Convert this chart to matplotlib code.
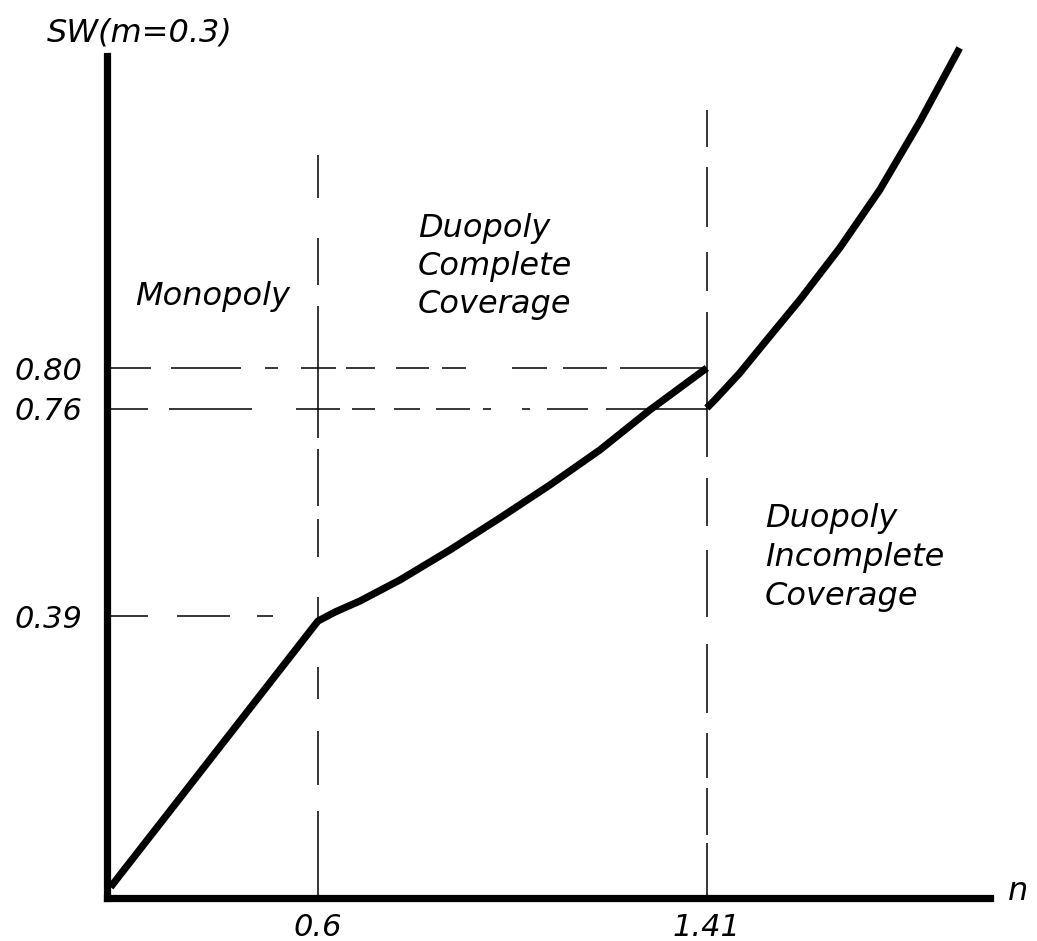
import matplotlib
matplotlib.use("Agg")
import matplotlib.pyplot as plt
import numpy as np

# schematic axes: tick values are not evenly spaced on the page
x_ticks = [0.6, 1.41]
x_tick_labels = ["0.6", "1.41"]
y_ticks = [0.39, 0.76, 0.80]
y_tick_labels = ["0.39", "0.76", "0.80"]

# social welfare curve
mono_cc_n = [0.01, 0.6, 0.6354, 0.6875, 0.7707, 0.8749, 0.9790, 1.0831, 1.1872, 1.2913, 1.41]
mono_cc_sw = [0.015, 0.383, 0.397, 0.4168, 0.4543, 0.5080, 0.5652, 0.6241, 0.6867, 0.7582, 0.80]
ic_n = [1.41, 1.4267, 1.4787, 1.5349, 1.6036, 1.6869, 1.7702, 1.8535, 1.9368]
ic_sw = [0.761, 0.7688, 0.7951, 0.835, 0.885, 0.95, 1.0225, 1.1075, 1.20]

regions = ["Monopoly", "Duopoly\nComplete\nCoverage", "Duopoly\nIncomplete\nCoverage"]

W, H, DPI = 1037, 941, 100
PX = 72 / DPI  # pixels -> points

# piecewise-linear page positions of the schematic axes (in pixels from the origin)
X_VAL = [-1.0, 0.0, 0.6, 1.41, 2.0, 3.0]
X_POS = [-355.0, 0.0, 211.0, 600.0, 883.3, 1363.5]
Y_VAL = [-1.0, 0.0, 0.39, 0.76, 0.80, 1.20, 2.0]
Y_POS = [-723.0, 0.0, 282.0, 489.0, 530.0, 850.0, 1490.0]


def fwd(vals, pos):
    return lambda v: np.interp(v, vals, pos)


def inv(vals, pos):
    return lambda p: np.interp(p, pos, vals)


plt.rcParams["lines.scale_dashes"] = False
fig = plt.figure(figsize=(W / DPI, H / DPI), dpi=DPI)
ax = fig.add_axes([107 / W, (H - 898) / H, (990 - 107) / W, (898 - 48) / H])
ax.set_xscale("function", functions=(fwd(X_VAL, X_POS), inv(X_VAL, X_POS)))
ax.set_yscale("function", functions=(fwd(Y_VAL, Y_POS), inv(Y_VAL, Y_POS)))
ax.set_xlim(0, 2.0)
ax.set_ylim(0, 1.20)

# dashed guide lines (dash patterns in pixels)
ref = dict(color="black", lw=1.1, zorder=1)
ax.plot([0, 1.41], [0.80, 0.80],
        dashes=[v * PX for v in (44, 20, 70, 24, 13, 23, 35, 10, 29, 21, 33, 13, 24, 46, 35, 16, 44, 13, 90, 10)], **ref)
ax.plot([0, 1.41], [0.76, 0.76],
        dashes=[v * PX for v in (41, 21, 83, 44, 44, 12, 23, 19, 26, 16, 34, 13, 8, 31, 8, 17, 41, 18, 105, 10)], **ref)
ax.plot([0, 0.6], [0.39, 0.39],
        dashes=[v * PX for v in (41, 29, 53, 27, 16, 100)], **ref)
ax.plot([0.6, 0.6], [1.066, 0],
        dashes=[v * PX for v in (43, 40, 47, 21, 132, 11, 57, 13, 38, 40, 28, 42, 32, 32, 54, 26, 90, 10)], **ref)
ax.plot([1.41, 1.41], [1.1225, 0],
        dashes=[v * PX for v in (37, 20, 60, 25, 39, 21, 145, 21, 48, 24, 67, 27, 69, 20, 45, 10, 47, 8, 60, 10)], **ref)

curve = dict(color="black", lw=5.2, solid_joinstyle="round", solid_capstyle="butt", clip_on=False, zorder=3)
ax.plot(mono_cc_n, mono_cc_sw, **curve)
ax.plot(ic_n, ic_sw, **curve)

for side in ("top", "right"):
    ax.spines[side].set_visible(False)
for side in ("left", "bottom"):
    ax.spines[side].set_linewidth(5.2)
ax.spines["left"].set_bounds(0, 1.19)

font = dict(family="DejaVu Sans", style="italic")
ax.set_xticks(x_ticks, x_tick_labels, fontsize=22, **font)
ax.set_yticks(y_ticks, y_tick_labels, fontsize=22, **font)
ax.tick_params(axis="x", length=0, pad=11)
ax.tick_params(axis="y", length=0, pad=18)
ax.minorticks_off()


def page_text(x, y, s, **kw):
    fig.text(x / W, 1 - y / H, s, fontsize=23, va="baseline", ha="left", **font, **kw)


page_text(47, 42, "SW(m=0.3)")
page_text(1008, 900, "n")
page_text(135, 305, regions[0])
for i, line in enumerate(regions[1].split("\n")):
    page_text(418, 237 + 38 * i, line)
for i, line in enumerate(regions[2].split("\n")):
    page_text(765, 527 + 39 * i, line)

fig.savefig("out.png", dpi=DPI)
